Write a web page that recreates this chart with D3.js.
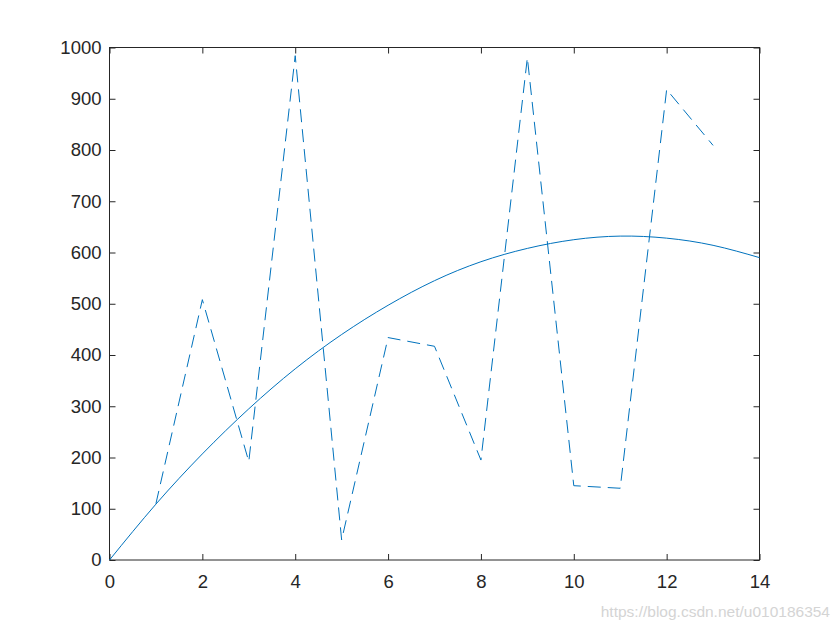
<!DOCTYPE html>
<html>
<head>
<meta charset="utf-8">
<script src="https://cdn.jsdelivr.net/npm/d3@7"></script>
<style>
  body { margin: 0; background: #fff; }
  svg { display: block; }
</style>
</head>
<body>
<div id="chart"></div>
<script>
// dashed series (raw values)
const rawX = [1, 2, 3, 4, 5, 6, 7, 8, 9, 10, 11, 12, 13];
const rawY = [110, 508, 192, 984, 39, 434, 417, 195, 980, 145, 140, 918, 809];

const fitX = [0, 1, 2, 3, 4, 5, 6, 7, 8, 9, 10, 11, 12, 13, 14];
const fitY = [0, 109, 207, 295, 373, 440, 497, 545, 582, 608, 625, 632, 628, 614, 590];

const xTicks = [0, 2, 4, 6, 8, 10, 12, 14];
const yTicks = [0, 100, 200, 300, 400, 500, 600, 700, 800, 900, 1000];

var margin = {top: 47.5, right: 80.5, bottom: 70, left: 109.5},
    W = 840, H = 630,
    width = W - margin.left - margin.right,
    height = H - margin.top - margin.bottom;

var svg = d3.select("#chart")
    .append("svg")
    .attr("width", W)
    .attr("height", H)
    .style("font-family", "'Liberation Sans', Arial, Helvetica, sans-serif");

svg.append("rect").attr("width", W).attr("height", H).attr("fill", "#fff");

var g = svg.append("g")
    .attr("transform", "translate(" + margin.left + "," + margin.top + ")");

var x = d3.scaleLinear().domain([0, 14]).range([0, width]);
var y = d3.scaleLinear().domain([0, 1000]).range([height, 0]);

var axisColor = "#262626";
var fmt = d3.format("d");

function styleAxis(sel, showText) {
    sel.select(".domain").remove();
    sel.selectAll(".tick line").attr("stroke", axisColor).attr("stroke-width", 1);
    sel.selectAll("text")
        .attr("fill", axisColor)
        .style("font-size", "18.5px")
        .style("display", showText ? null : "none");
}

// bottom / left axes with labels, ticks pointing in
g.append("g")
    .attr("transform", "translate(0," + height + ")")
    .call(d3.axisBottom(x).tickValues(xTicks).tickFormat(fmt).tickSizeInner(-6).tickSizeOuter(0).tickPadding(15))
    .call(styleAxis, true);

g.append("g")
    .call(d3.axisLeft(y).tickValues(yTicks).tickFormat(fmt).tickSizeInner(-6).tickSizeOuter(0).tickPadding(8))
    .call(styleAxis, true);

// top / right: ticks only
g.append("g")
    .call(d3.axisTop(x).tickValues(xTicks).tickSizeInner(-6).tickSizeOuter(0))
    .call(styleAxis, false);

g.append("g")
    .attr("transform", "translate(" + width + ",0)")
    .call(d3.axisRight(y).tickValues(yTicks).tickSizeInner(-6).tickSizeOuter(0))
    .call(styleAxis, false);

// box
g.append("rect")
    .attr("width", width)
    .attr("height", height)
    .attr("fill", "none")
    .attr("stroke", axisColor)
    .attr("stroke-width", 1);

var lineColor = "#0072BD";

// dashed raw data
var rawLine = d3.line()
    .x(function (d, i) { return x(rawX[i]); })
    .y(function (d) { return y(d); });

g.append("path")
    .datum(rawY)
    .attr("d", rawLine)
    .attr("fill", "none")
    .attr("stroke", lineColor)
    .attr("stroke-width", 1)
    .attr("stroke-dasharray", "13,7");

// smooth curve
var fitLine = d3.line()
    .x(function (d, i) { return x(fitX[i]); })
    .y(function (d) { return y(d); })
    .curve(d3.curveNatural);

g.append("path")
    .datum(fitY)
    .attr("d", fitLine)
    .attr("fill", "none")
    .attr("stroke", lineColor)
    .attr("stroke-width", 1);

// watermark
svg.append("text")
    .attr("x", 830)
    .attr("y", 617)
    .attr("text-anchor", "end")
    .attr("fill", "#d4d4d4")
    .style("font-size", "15.5px")
    .text("https://blog.csdn.net/u010186354");
</script>
</body>
</html>
